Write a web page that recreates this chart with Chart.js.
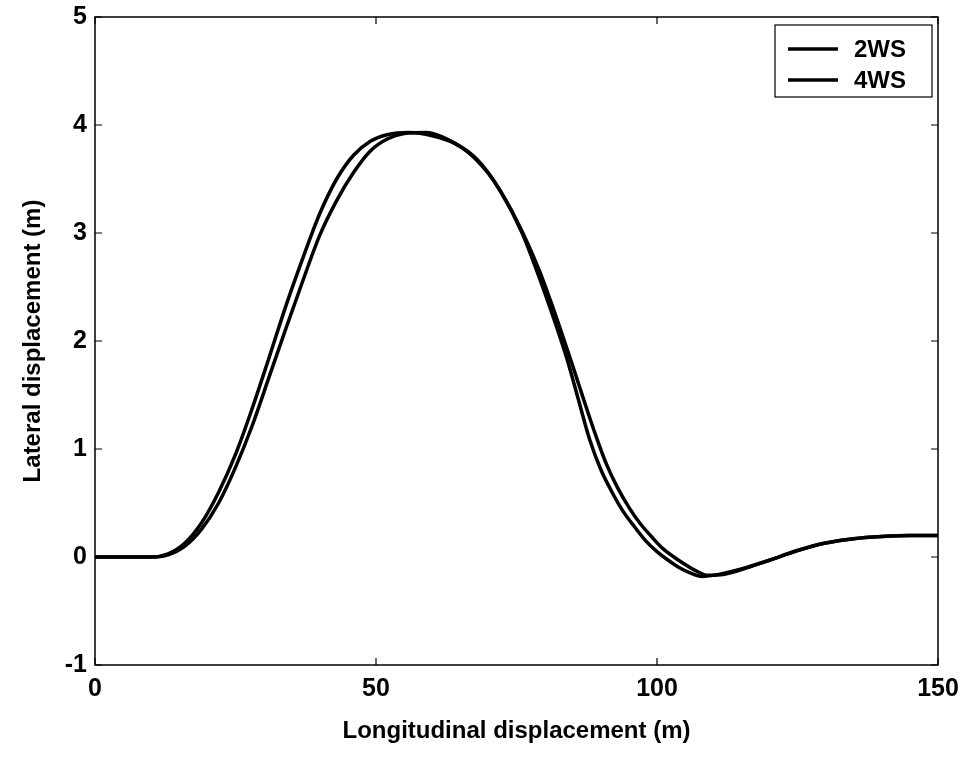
<!DOCTYPE html>
<html>
<head>
<meta charset="utf-8">
<script src="https://cdn.jsdelivr.net/npm/chart.js"></script>
<style>
  html, body { margin: 0; background: #fff; }
  #wrap { width: 962px; height: 757px; }
</style>
</head>
<body>
<div id="wrap"><canvas id="chart"></canvas></div>
<script>
// ---- data ----
const seriesNames = ["2WS", "4WS"];

const x2ws = [0, 10, 13, 16, 19, 22, 25, 28, 31, 34, 37, 40, 43, 46, 49, 52, 56, 60, 64, 68, 72, 76, 80, 82, 84, 86, 88, 90, 92, 94, 96, 98, 100, 102, 104, 106, 108, 110, 115, 120, 125, 130, 135, 140, 145, 150];
const y2ws = [0, 0, 0.03, 0.13, 0.32, 0.6, 0.95, 1.38, 1.85, 2.33, 2.77, 3.18, 3.5, 3.72, 3.85, 3.91, 3.93, 3.9, 3.83, 3.68, 3.4, 3.0, 2.45, 2.15, 1.83, 1.46, 1.09, 0.81, 0.6, 0.42, 0.28, 0.15, 0.05, -0.03, -0.1, -0.15, -0.18, -0.17, -0.11, -0.03, 0.06, 0.13, 0.17, 0.19, 0.2, 0.2];

const x4ws = [0, 10, 13, 16, 19, 22, 25, 28, 31, 34, 37, 40, 43, 46, 49, 52, 55, 59, 63, 67, 71, 75, 79, 81, 83, 85, 87, 89, 91, 93, 95, 97, 99, 101, 103, 105, 107, 109, 112, 116, 120, 125, 130, 135, 140, 145, 150];
const y4ws = [0, 0, 0.02, 0.1, 0.26, 0.5, 0.83, 1.22, 1.67, 2.12, 2.56, 2.98, 3.3, 3.56, 3.76, 3.87, 3.92, 3.93, 3.86, 3.72, 3.48, 3.12, 2.66, 2.38, 2.08, 1.77, 1.45, 1.14, 0.86, 0.64, 0.46, 0.31, 0.19, 0.08, 0.0, -0.07, -0.13, -0.17, -0.16, -0.1, -0.03, 0.06, 0.13, 0.17, 0.19, 0.2, 0.2];

const xTicks = [0, 50, 100, 150];
const yTicks = [-1, 0, 1, 2, 3, 4, 5];

const FONT = "'Liberation Sans', Arial, sans-serif";

function toPoints(xs, ys) {
  return xs.map((x, i) => ({ x: x, y: ys[i] }));
}

// box round the plot + inward tick marks (matlab look)
const frame = {
  id: "frame",
  afterDatasetsDraw(chart) {
    const { ctx, chartArea: a, scales } = chart;
    ctx.save();
    ctx.strokeStyle = "#000";
    ctx.lineWidth = 1.5;
    ctx.strokeRect(a.left, a.top, a.right - a.left, a.bottom - a.top);
    ctx.lineWidth = 1.2;
    ctx.beginPath();
    xTicks.forEach(v => {
      const px = scales.x.getPixelForValue(v);
      ctx.moveTo(px, a.bottom); ctx.lineTo(px, a.bottom - 7);
      ctx.moveTo(px, a.top); ctx.lineTo(px, a.top + 7);
    });
    yTicks.forEach(v => {
      const py = scales.y.getPixelForValue(v);
      ctx.moveTo(a.left, py); ctx.lineTo(a.left + 7, py);
      ctx.moveTo(a.right, py); ctx.lineTo(a.right - 7, py);
    });
    ctx.stroke();
    ctx.restore();
  }
};

// legend box in the upper right corner
const boxLegend = {
  id: "boxLegend",
  afterDraw(chart) {
    const { ctx, chartArea: a } = chart;
    const w = 157, h = 72;
    const left = a.right - 6 - w, top = a.top + 8;
    ctx.save();
    ctx.fillStyle = "#fff";
    ctx.fillRect(left, top, w, h);
    ctx.strokeStyle = "#000";
    ctx.lineWidth = 1.2;
    ctx.strokeRect(left, top, w, h);
    ctx.font = "bold 24px " + FONT;
    ctx.textBaseline = "middle";
    chart.data.datasets.forEach((ds, i) => {
      const y = top + 24 + i * 31;
      ctx.strokeStyle = ds.borderColor;
      ctx.lineWidth = 3.5;
      ctx.beginPath();
      ctx.moveTo(left + 13, y);
      ctx.lineTo(left + 63, y);
      ctx.stroke();
      ctx.fillStyle = "#000";
      ctx.fillText(ds.label, left + 79, y + 1);
    });
    ctx.restore();
  }
};

new Chart(document.getElementById("chart"), {
  type: "line",
  data: {
    datasets: [
      {
        label: seriesNames[0],
        data: toPoints(x2ws, y2ws),
        borderColor: "#000",
        borderWidth: 3.5,
        pointRadius: 0,
        cubicInterpolationMode: "monotone"
      },
      {
        label: seriesNames[1],
        data: toPoints(x4ws, y4ws),
        borderColor: "#000",
        borderWidth: 3.5,
        pointRadius: 0,
        cubicInterpolationMode: "monotone"
      }
    ]
  },
  options: {
    responsive: true,
    maintainAspectRatio: false,
    animation: false,
    layout: { padding: { left: 0, right: 24, top: 17, bottom: 0 } },
    plugins: {
      legend: { display: false },
      tooltip: { enabled: false }
    },
    scales: {
      x: {
        type: "linear",
        min: 0,
        max: 150,
        afterBuildTicks: s => { s.ticks = xTicks.map(v => ({ value: v })); },
        afterFit: s => { s.height = 92; s.paddingLeft = 0; s.paddingRight = 0; },
        grid: { display: false },
        border: { display: false },
        ticks: {
          color: "#000",
          padding: 1,
          maxRotation: 0,
          font: { family: FONT, size: 25, weight: "bold" }
        },
        title: {
          display: true,
          text: "Longitudinal displacement (m)",
          color: "#000",
          padding: { top: 0, bottom: 11 },
          font: { family: FONT, size: 24, weight: "bold" }
        }
      },
      y: {
        type: "linear",
        min: -1,
        max: 5,
        afterBuildTicks: s => { s.ticks = yTicks.map(v => ({ value: v })); },
        afterFit: s => { s.width = 95; s.paddingTop = 0; s.paddingBottom = 0; },
        grid: { display: false },
        border: { display: false },
        ticks: {
          color: "#000",
          padding: 0,
          font: { family: FONT, size: 25, weight: "bold" }
        },
        title: {
          display: true,
          text: "Lateral displacement (m)",
          color: "#000",
          padding: { top: 19, bottom: 0 },
          font: { family: FONT, size: 24, weight: "bold" }
        }
      }
    }
  },
  plugins: [frame, boxLegend]
});
</script>
</body>
</html>
